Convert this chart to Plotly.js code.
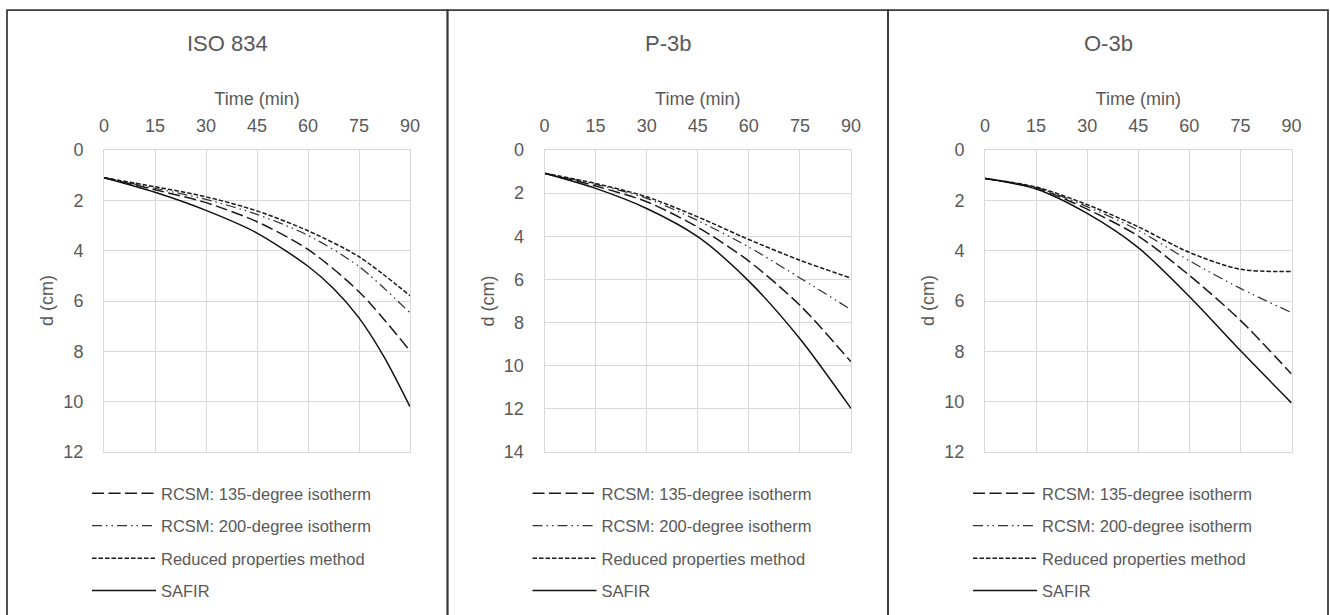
<!DOCTYPE html>
<html>
<head>
<meta charset="utf-8">
<script src="https://cdn.plot.ly/plotly-3.0.1.min.js"></script>
<style>html,body{margin:0;padding:0;background:#fff;}#chart{width:1330px;height:615px;}</style>
</head>
<body>
<div id="chart"></div>
<script>
// ---- data ----
const panelTitles = ["ISO 834", "P-3b", "O-3b"];
const seriesNames = ["RCSM: 135-degree isotherm", "RCSM: 200-degree isotherm", "Reduced properties method", "SAFIR"];
const xTitle = "Time (min)";
const yTitle = "d (cm)";
const time = [0, 15, 30, 45, 60, 75, 90];
const timeFine = [0, 15, 30, 45, 60, 67.5, 75, 82.5, 90];
const xTicks = [0, 15, 30, 45, 60, 75, 90];
const yMax = [12, 14, 12];

// ISO 834
const iso_rcsm135 = [1.10, 1.58, 2.09, 2.85, 3.95, 5.63, 7.98];
const iso_rcsm200 = [1.10, 1.52, 1.96, 2.56, 3.39, 4.63, 6.47];
const iso_reduced = [1.10, 1.46, 1.86, 2.42, 3.21, 4.24, 5.79];
const iso_safir   = [1.10, 1.68, 2.40, 3.30, 4.62, 5.50, 6.67, 8.25, 10.20];

// P-3b
const p3b_rcsm135 = [1.08, 1.67, 2.40, 3.58, 5.15, 7.20, 9.82];
const p3b_rcsm200 = [1.08, 1.59, 2.24, 3.27, 4.50, 5.93, 7.40];
const p3b_reduced = [1.08, 1.55, 2.17, 3.10, 4.15, 5.11, 5.94];
const p3b_safir   = [1.08, 1.78, 2.71, 4.02, 6.08, 8.75, 11.98];

// O-3b
const o3b_rcsm135 = [1.13, 1.51, 2.35, 3.42, 4.98, 6.77, 8.90];
const o3b_rcsm200 = [1.13, 1.49, 2.25, 3.19, 4.40, 5.50, 6.46];
const o3b_reduced = [1.13, 1.47, 2.17, 3.05, 4.07, 4.74, 4.83];
const o3b_safir   = [1.13, 1.55, 2.52, 3.88, 5.82, 7.97, 10.05];

const panels = [
  [iso_rcsm135, iso_rcsm200, iso_reduced, iso_safir],
  [p3b_rcsm135, p3b_rcsm200, p3b_reduced, p3b_safir],
  [o3b_rcsm135, o3b_rcsm200, o3b_reduced, o3b_safir]
];

// ---- styles ----
const lineStyles = [
  {color: "#1a1a1a", width: 1.5, dash: "12px,4.5px"},
  {color: "#333333", width: 1.25, dash: "10px,4px,1.5px,4px,1.5px,4px"},
  {color: "#1a1a1a", width: 1.5, dash: "4.5px,2px"},
  {color: "#111111", width: 1.5, dash: "solid"}
];

const W = 1330, H = 615;
const plotX = [[104, 410], [544.5, 851], [985, 1291.5]];
const plotY = [150, 452];
const boxX = [[7, 447.5], [447.5, 888], [888, 1328]];
const textColor = "#595959";
const gridColor = "#d9d9d9";
const FONT = "Liberation Sans, Arial, sans-serif";

const traces = [];
const layout = {
  width: W, height: H,
  margin: {l: 0, r: 0, t: 0, b: 0, autoexpand: false},
  paper_bgcolor: "#ffffff",
  plot_bgcolor: "#ffffff",
  font: {family: FONT, color: textColor},
  showlegend: true,
  annotations: [],
  shapes: []
};

panels.forEach((series, p) => {
  const ax = p === 0 ? "" : String(p + 1);
  const legendId = p === 0 ? "legend" : "legend" + (p + 1);
  series.forEach((vals, s) => {
    traces.push({
      type: "scatter", mode: "lines",
      x: vals.length === timeFine.length ? timeFine : time, y: vals,
      name: seriesNames[s],
      xaxis: "x" + ax, yaxis: "y" + ax,
      legend: legendId,
      legendgroup: "g" + p + "_" + s,
      line: Object.assign({shape: "spline", smoothing: 0.8}, lineStyles[s]),
      hoverinfo: "x+y+name"
    });
  });
  layout["xaxis" + ax] = {
    domain: [plotX[p][0] / W, plotX[p][1] / W],
    anchor: "y" + ax,
    side: "top",
    range: [0, 90],
    tickvals: xTicks,
    ticks: "",
    ticklabelstandoff: 10,
    showgrid: true, gridcolor: gridColor, gridwidth: 1,
    zeroline: false,
    showline: true, linecolor: gridColor, linewidth: 1, mirror: true,
    tickfont: {size: 18, color: textColor, family: FONT},
    title: {text: xTitle, font: {size: 18, color: textColor, family: FONT}, standoff: 5},
    automargin: true,
    fixedrange: true
  };
  layout["yaxis" + ax] = {
    domain: [1 - plotY[1] / H, 1 - plotY[0] / H],
    anchor: "x" + ax,
    range: [yMax[p], 0],
    dtick: 2, tick0: 0,
    ticks: "",
    ticklabelstandoff: 16,
    showgrid: true, gridcolor: gridColor, gridwidth: 1,
    zeroline: false,
    showline: true, linecolor: gridColor, linewidth: 1, mirror: true,
    tickfont: {size: 18, color: textColor, family: FONT},
    automargin: false,
    fixedrange: true
  };
  layout[legendId] = {
    xref: "container", yref: "container",
    x: (boxX[p][0] + 80) / W, xanchor: "left",
    y: 1 - 476 / H, yanchor: "top",
    orientation: "v",
    bgcolor: "rgba(0,0,0,0)",
    borderwidth: 0,
    font: {size: 16.5, color: textColor, family: FONT},
    tracegroupgap: 8,
    itemwidth: 64,
    traceorder: "grouped"
  };
  // panel title
  layout.annotations.push({
    xref: "paper", yref: "paper",
    x: (boxX[p][0] + boxX[p][1]) / 2 / W, y: 1 - 43 / H,
    xanchor: "center", yanchor: "middle",
    text: panelTitles[p], showarrow: false,
    font: {size: 22, color: textColor, family: FONT}
  });
  // y-axis title
  layout.annotations.push({
    xref: "paper", yref: "paper",
    x: (plotX[p][0] - 57) / W, y: 1 - (plotY[0] + plotY[1]) / 2 / H,
    xanchor: "center", yanchor: "middle",
    text: yTitle, showarrow: false, textangle: -90,
    font: {size: 18, color: textColor, family: FONT}
  });
  layout.shapes.push({
    type: "rect", xref: "paper", yref: "paper",
    x0: boxX[p][0] / W, x1: boxX[p][1] / W,
    y0: -0.1, y1: 1 - 10 / H,
    line: {color: "#3a3a3a", width: 1.75},
    fillcolor: "rgba(0,0,0,0)",
    layer: "below"
  });
});

Plotly.newPlot("chart", traces, layout, {displayModeBar: false, staticPlot: true});
</script>
</body>
</html>
